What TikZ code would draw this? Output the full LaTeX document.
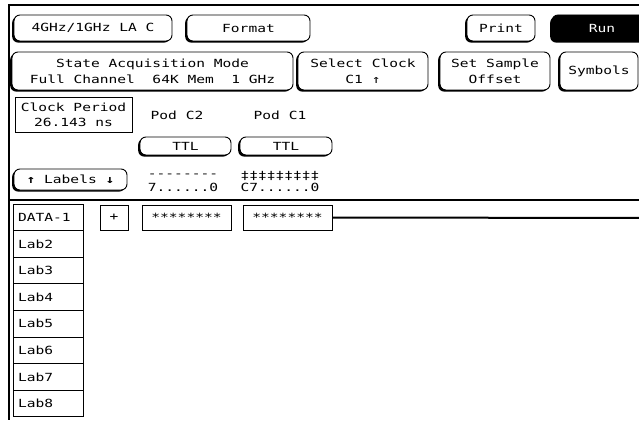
\documentclass[tikz,border=0pt]{standalone}
\usepackage{fontspec}
\usetikzlibrary{shadows}
\newfontfamily\hp[FakeStretch=1.3]{DejaVu Sans Mono}
\tikzset{
  btn/.style={draw, fill=white, line width=0.9pt, rounded corners=6pt, inner sep=0pt,
    general shadow={fill=black, shadow xshift=-1.8pt, shadow yshift=-1.6pt},
    font=\hp\fontsize{11.2}{16}\selectfont, align=center},
  box/.style={draw, fill=white, line width=0.9pt, inner sep=0pt, font=\hp\fontsize{11.2}{15}\selectfont, align=center},
  lbl/.style={inner sep=0pt, font=\hp\fontsize{11.2}{13}\selectfont, align=center},
  rowbox/.style={draw, line width=0.9pt, inner xsep=5pt, inner ysep=0pt, minimum width=70pt, minimum height=26.6pt,
    font=\hp\fontsize{11.2}{13}\selectfont, text width=60pt, align=left},
  frame/.style={line width=2pt}
}
\begin{document}
\begin{tikzpicture}[x=1pt,y=-1pt]
\useasboundingbox (0,0) rectangle (639,422);
% frame
\coordinate (ftr) at (645,5);
\coordinate (ftl) at (9,5);
\coordinate (fbl) at (9,420);
\draw[frame] (ftr) -- (ftl) -- (fbl);
% top row buttons
\node[btn, minimum width=158pt, minimum height=26pt] (la) at (93,28) {4GHz/1GHz LA C};
\node[btn, minimum width=123pt, minimum height=26pt] (fmt) at (248.5,28) {Format};
\node[btn, minimum width=68pt, minimum height=26pt] (print) at (501,28) {Print};
\node[btn, fill=black, text=white, minimum width=100pt, minimum height=26pt] (run) at (602,28) {Run};
% second row
\node[btn, minimum width=281pt, minimum height=38pt] (mode) at (152.5,71) {State Acquisition Mode\\Full Channel\ \ 64K Mem\ \ 1 GHz};
\node[btn, minimum width=130pt, minimum height=38pt] (clk) at (363,71) {Select Clock\\C1 ↑};
\node[btn, minimum width=110pt, minimum height=38pt] (off) at (495,71) {Set Sample\\Offset};
\node[btn, minimum width=78pt, minimum height=38pt] (sym) at (599,71) {Symbols};
% clock period
\node[box, minimum width=117pt, minimum height=35pt] (cp) at (73.5,114.5) {Clock Period\\26.143 ns};
% pods
\node[lbl] (podc2) at (177,115) {Pod C2};
\node[lbl] (podc1) at (280,115) {Pod C1};
\node[btn, minimum width=91pt, minimum height=18pt] (ttl2) at (185.5,146) {TTL};
\node[btn, minimum width=92pt, minimum height=18pt] (ttl1) at (286,146) {TTL};
% labels button
\node[btn, minimum width=113pt, minimum height=21pt] (labels) at (70.5,179.5) {\textbf{↑} Labels \textbf{↓}};
\node[lbl] (dash) at (183,176) {--------};
\node[lbl] (bits2) at (183,187) {7......0};
\node[lbl] (dd) at (280,175.5) {‡‡‡‡‡‡‡‡‡};
\node[lbl] (bits1) at (280,187) {C7......0};
% separator
\coordinate (sepl) at (9,200);
\coordinate (sepr) at (645,200);
\draw[frame] (sepl) -- (sepr);
% rows
\foreach \t [count=\i] in {DATA-1,Lab2,Lab3,Lab4,Lab5,Lab6,Lab7,Lab8} {
  \node[rowbox] (r\i) at (48,{204+26.6*(\i-0.5)}) {\t};
}
\node[box, minimum width=28pt, minimum height=25pt] (plus) at (114,217.5) {+};
\node[box, minimum width=89pt, minimum height=25pt] (s1) at (186.5,217.5) {********};
\node[box, minimum width=89pt, minimum height=25pt] (s2) at (287.5,217.5) {********};
\coordinate (wend) at (645,218);
\draw[frame] (s2.east) -- (wend);
\end{tikzpicture}
\end{document}
